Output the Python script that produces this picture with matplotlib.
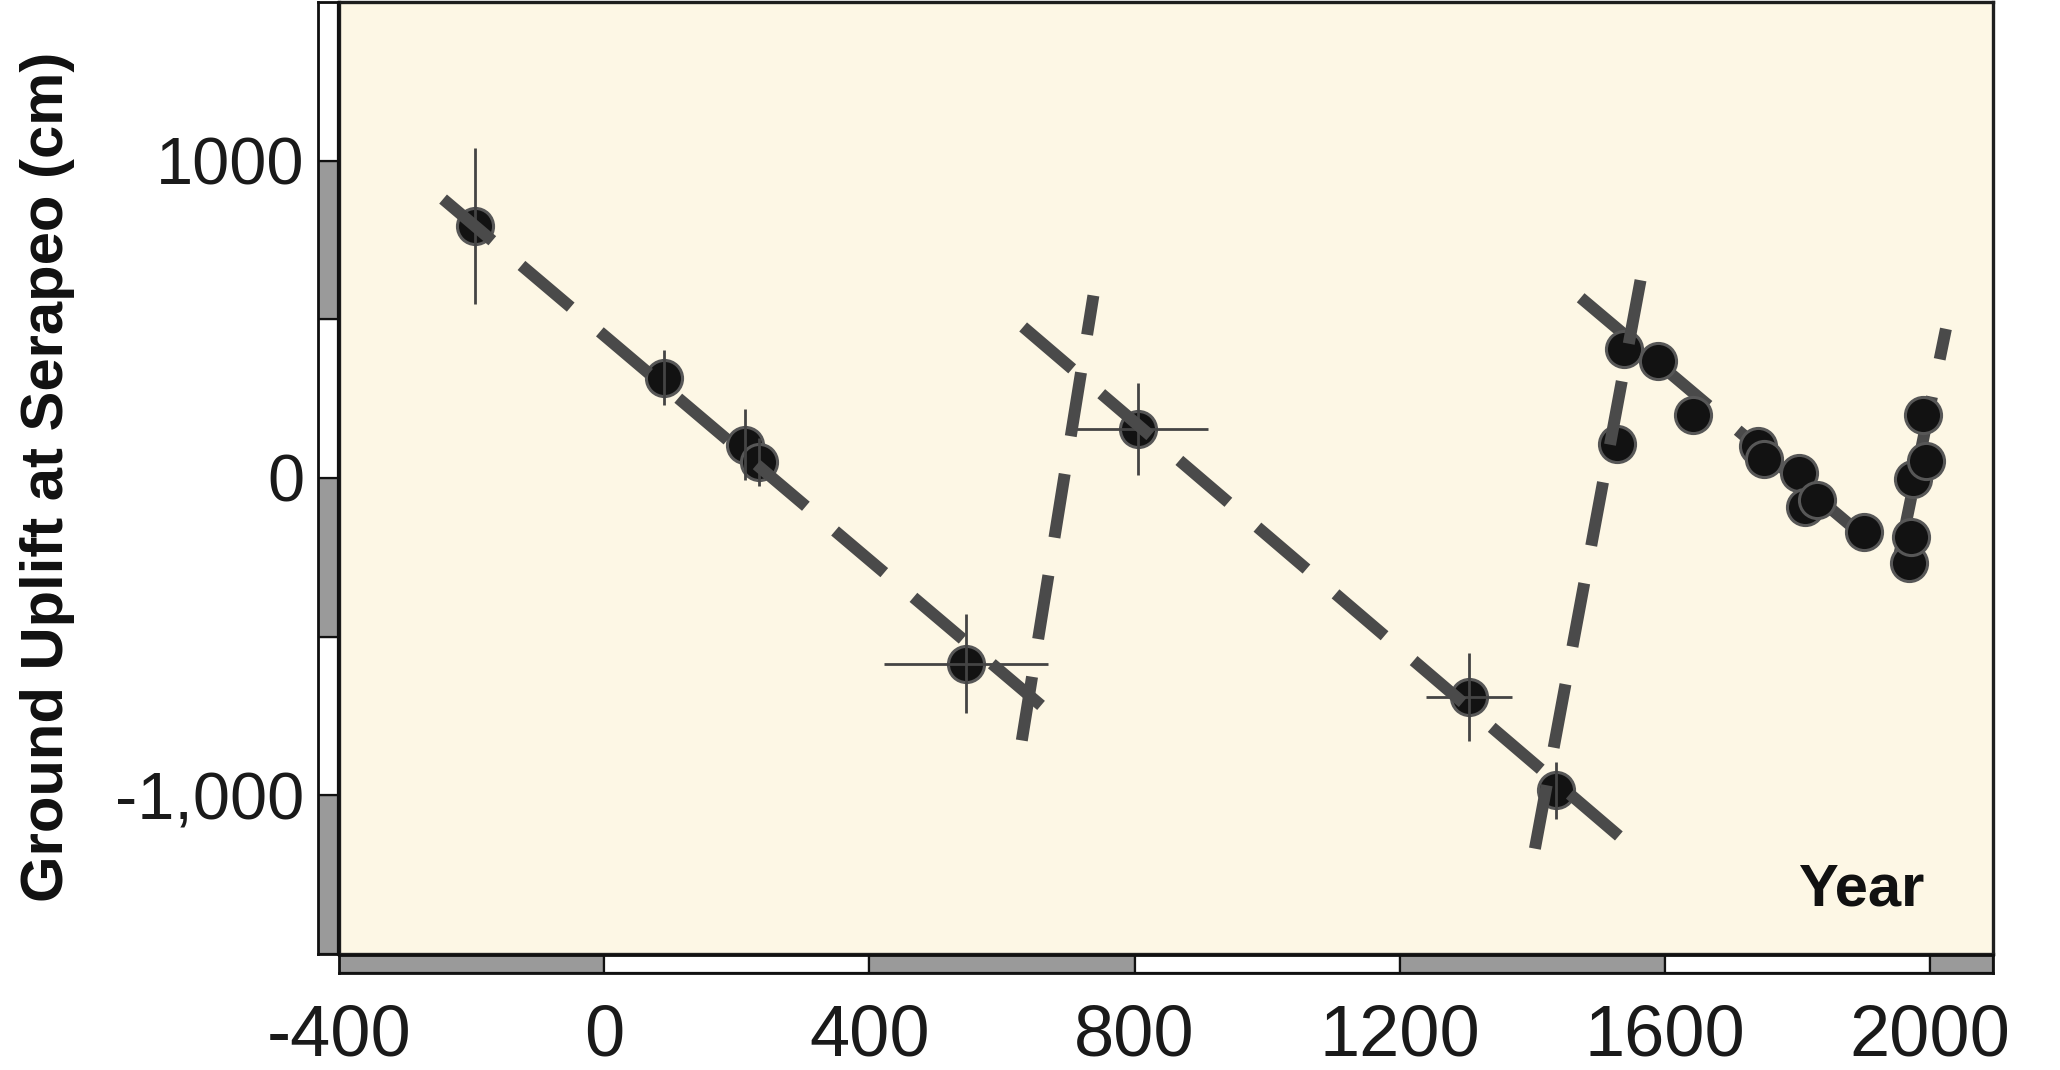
import numpy as np
import matplotlib
matplotlib.use("Agg")
import matplotlib.pyplot as plt
from matplotlib import font_manager

# --- data ---
years = [-195, 90, 213, 233, 546, 806, 1305, 1436,
         1528, 1539, 1590, 1643, 1740, 1750, 1802, 1812, 1829, 1900,
         1969, 1972, 1975, 1994, 1989]
uplift = [794, 316, 105, 51, -585, 153, -690, -984,
          107, 405, 368, 200, 100, 60, 15, -90, -69, -169,
          -269, -185, -3, 52, 200]
year_err = [0, 0, 0, 0, 124, 105, 65, 0,
            0, 0, 0, 0, 0, 0, 0, 0, 0, 0, 0, 0, 0, 0, 0]
uplift_err = [245, 87, 112, 75, 155, 145, 140, 90,
              0, 0, 0, 0, 0, 0, 0, 0, 0, 0, 0, 0, 0, 0, 0]

# dashed trend segments (subsidence / uplift episodes)
fit_x0 = [-243, 630, 632, 1404, 1473, 1952]
fit_y0 = [879, -827, 476, -1168, 568, -260]
fit_x1 = [679, 738, 1562, 1565, 1952, 2024]
fit_y1 = [-752, 575, -1184, 642, -276, 470]
fit_on_top = [True, True, True, True, False, False]

x_ticks = [-400, 0, 400, 800, 1200, 1600, 2000]
x_ticklabels = ["-400", "0", "400", "800", "1200", "1600", "2000"]
y_ticks = [-1000, 0, 1000]
y_ticklabels = ["-1,000", "0", "1000"]

XLIM = (-400, 2095)
YLIM = (-1500, 1500)

# --- fonts ---
names = {f.name for f in font_manager.fontManager.ttflist}
NARROW = "Liberation Sans Narrow" if "Liberation Sans Narrow" in names else None
REGULAR = "Liberation Sans"

BG = "#fdf7e5"
LINE = "#4a4a4a"
STRIP_GRAY = "#9a9a9a"

fig = plt.figure(figsize=(20.6, 10.7), dpi=100)
W, H = 2060, 1070


def fig_box(x0, y0, x1, y1):
    # pixel box (top-left origin) -> figure fraction rect
    return [x0 / W, 1 - y1 / H, (x1 - x0) / W, (y1 - y0) / H]


ax = fig.add_axes(fig_box(339, 2, 1993, 954))
ax_ys = fig.add_axes(fig_box(318, 2, 338, 954), sharey=ax)
ax_xs = fig.add_axes(fig_box(339, 955, 1993, 973), sharex=ax)

ax.set_facecolor(BG)
ax.set_xlim(*XLIM)
ax.set_ylim(*YLIM)
for s in ax.spines.values():
    s.set_linewidth(2.4)
    s.set_color("#1e1e1e")
ax.tick_params(left=False, bottom=False, labelleft=False, labelbottom=False)

# trend lines
for x0, y0, x1, y1, top in zip(fit_x0, fit_y0, fit_x1, fit_y1, fit_on_top):
    ln, = ax.plot([x0, x1], [y0, y1], color=LINE, lw=8.6, solid_capstyle="butt",
                  dash_capstyle="butt", zorder=5 if top else 2)
    ln.set_dashes((5.4, 3.2))

# data points + error bars
ax.plot(years, uplift, "o", ms=26, mfc="#121212", mec="#575757", mew=2.2,
        zorder=3, linestyle="none")
ax.errorbar(years, uplift, xerr=year_err, yerr=uplift_err, fmt="none",
            ecolor="#444444", elinewidth=2.0, capsize=0, zorder=4)

ax.text(1992, -1348, "Year", ha="right", va="baseline", fontsize=43,
        fontweight="bold", family=REGULAR, color="#111111")

# alternating scale strips
y_edges = np.arange(YLIM[0], YLIM[1], 500)
for i, b in enumerate(y_edges):
    ax_ys.bar(0.5, 500, bottom=b, width=1,
              color=STRIP_GRAY if i % 2 == 0 else "white",
              edgecolor="#111111", linewidth=1.6)
ax_ys.set_xlim(0, 1)
ax_ys.set_yticks(y_ticks)
ax_ys.set_yticklabels(y_ticklabels, family=REGULAR, fontsize=48, color="#1a1a1a")
ax_ys.tick_params(axis="y", length=0, pad=10)
ax_ys.tick_params(axis="x", bottom=False, labelbottom=False)
for s in ax_ys.spines.values():
    s.set_linewidth(2.0)
    s.set_color("#111111")

x_edges = list(range(XLIM[0], 2001, 400))
for i, b in enumerate(x_edges):
    w = min(400, XLIM[1] - b)
    ax_xs.bar(b, 1, width=w, bottom=0, align="edge",
              color=STRIP_GRAY if i % 2 == 0 else "white",
              edgecolor="#111111", linewidth=1.6)
ax_xs.set_ylim(0, 1)
ax_xs.set_xticks(x_ticks)
ax_xs.set_xticklabels(x_ticklabels, family=NARROW or REGULAR,
                      fontsize=58 if NARROW else 52, color="#1a1a1a")
ax_xs.tick_params(axis="x", length=0, pad=22)
ax_xs.tick_params(axis="y", left=False, labelleft=False)
for s in ax_xs.spines.values():
    s.set_linewidth(2.0)
    s.set_color("#111111")
ax.set_xlim(*XLIM)
ax.set_ylim(*YLIM)

fig.text(48 / W, 1 - 477 / H, "Ground Uplift at Serapeo (cm)", rotation=90,
         ha="center", va="center", fontsize=51 if NARROW else 43,
         fontweight="bold", family=NARROW or REGULAR, color="#111111")

fig.savefig("out.png", dpi=100, facecolor="white")
